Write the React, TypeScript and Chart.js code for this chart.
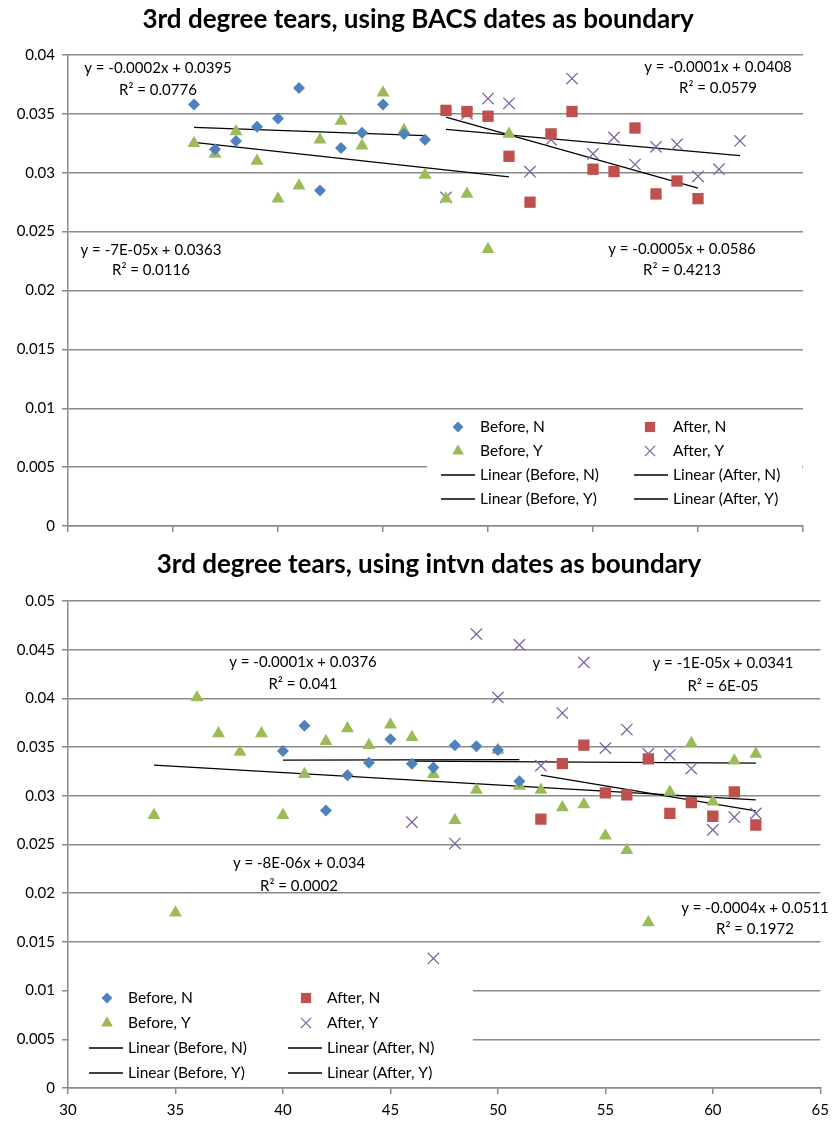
import React, { useEffect, useRef } from "react";
import { Chart, registerables } from "chart.js";
import { drawPoint } from "chart.js/helpers";

Chart.register(...registerables);

// ---------- DATA: top chart (BACS dates as boundary) ----------
const topBeforeNX = [36, 37, 38, 39, 40, 41, 42, 43, 44, 45, 46, 47];
const topBeforeNY = [0.0358, 0.032, 0.0327, 0.0339, 0.0346, 0.0372, 0.0285, 0.0321, 0.0334, 0.0358, 0.0333, 0.0328];
const topBeforeYX = [36, 37, 38, 39, 40, 41, 42, 43, 44, 45, 46, 47, 48, 49, 50, 51];
const topBeforeYY = [0.0325, 0.0316, 0.0335, 0.031, 0.0278, 0.0289, 0.0328, 0.0344, 0.0323, 0.0368, 0.0336, 0.0298, 0.0278, 0.0282, 0.0235, 0.0333];
const topAfterNX = [48, 49, 50, 51, 52, 53, 54, 55, 56, 57, 58, 59, 60];
const topAfterNY = [0.0353, 0.0352, 0.0348, 0.0314, 0.0275, 0.0333, 0.0352, 0.0303, 0.0301, 0.0338, 0.0282, 0.0293, 0.0278];
const topAfterYX = [48, 49, 50, 51, 52, 53, 54, 55, 56, 57, 58, 59, 60, 61, 62];
const topAfterYY = [0.0279, 0.035, 0.0363, 0.0359, 0.0301, 0.0328, 0.038, 0.0316, 0.033, 0.0307, 0.0322, 0.0324, 0.0297, 0.0303, 0.0327];
const topEquations = ["y = -0.0002x + 0.0395", "y = -7E-05x + 0.0363", "y = -0.0001x + 0.0408", "y = -0.0005x + 0.0586"];
const topR2 = ["R² = 0.0776", "R² = 0.0116", "R² = 0.0579", "R² = 0.4213"];

// ---------- DATA: bottom chart (intvn dates as boundary) ----------
const botBeforeNX = [40, 41, 42, 43, 44, 45, 46, 47, 48, 49, 50, 51];
const botBeforeNY = [0.0346, 0.0372, 0.0285, 0.0321, 0.0334, 0.0358, 0.0333, 0.0329, 0.0352, 0.0351, 0.0347, 0.0315];
const botBeforeYX = [34, 35, 36, 37, 38, 39, 40, 41, 42, 43, 44, 45, 46, 47, 48, 49, 50, 51, 52, 53, 54, 55, 56, 57, 58, 59, 60, 61, 62];
const botBeforeYY = [0.028, 0.018, 0.0401, 0.0364, 0.0345, 0.0364, 0.028, 0.0322, 0.0356, 0.0369, 0.0352, 0.0373, 0.036, 0.0322, 0.0275, 0.0306, 0.0347, 0.031, 0.0306, 0.0288, 0.0291, 0.0259, 0.0244, 0.017, 0.0304, 0.0354, 0.0294, 0.0336, 0.0343];
const botAfterNX = [52, 53, 54, 55, 56, 57, 58, 59, 60, 61, 62];
const botAfterNY = [0.0276, 0.0333, 0.0352, 0.0303, 0.0301, 0.0338, 0.0282, 0.0293, 0.0279, 0.0304, 0.027];
const botAfterYX = [46, 47, 48, 49, 50, 51, 52, 53, 54, 55, 56, 57, 58, 59, 60, 61, 62];
const botAfterYY = [0.0273, 0.0133, 0.0251, 0.0466, 0.0401, 0.0455, 0.0331, 0.0385, 0.0437, 0.0349, 0.0368, 0.0343, 0.0342, 0.0328, 0.0265, 0.0278, 0.0282];
const botEquations = ["y = -0.0001x + 0.0376", "y = -8E-06x + 0.034", "y = -1E-05x + 0.0341", "y = -0.0004x + 0.0511"];
const botR2 = ["R² = 0.041", "R² = 0.0002", "R² = 6E-05", "R² = 0.1972"];

const xTickValues = [30, 35, 40, 45, 50, 55, 60, 65];

// ---------- styling ----------
const FONT = 'Lato, "Liberation Sans", Arial, sans-serif';
const GRID = "#8a8a8a";
const STYLES = {
  beforeN: { pointStyle: "rectRot", radius: 6, fill: "#4F81BD", stroke: "#4F81BD", bw: 0 },
  afterN: { pointStyle: "rect", radius: 8, fill: "#C0504D", stroke: "#C0504D", bw: 0 },
  beforeY: { pointStyle: "triangle", radius: 7.5, fill: "#9BBB59", stroke: "#9BBB59", bw: 0 },
  afterY: { pointStyle: "crossRot", radius: 8, fill: "#8064A2", stroke: "#8064A2", bw: 1.3 },
};

function linFit(xs: number[], ys: number[]) {
  const n = xs.length;
  let sx = 0, sy = 0, sxx = 0, sxy = 0;
  for (let i = 0; i < n; i++) {
    sx += xs[i]; sy += ys[i]; sxx += xs[i] * xs[i]; sxy += xs[i] * ys[i];
  }
  const m = (n * sxy - sx * sy) / (n * sxx - sx * sx);
  const b = (sy - m * sx) / n;
  return { m, b };
}

function pointDs(label: string, xs: number[], ys: number[], st: any) {
  return {
    label,
    data: xs.map((x, i) => ({ x, y: ys[i] })),
    pointStyle: st.pointStyle,
    pointRadius: st.radius,
    backgroundColor: st.fill,
    borderColor: st.stroke,
    pointBorderWidth: st.bw,
    borderWidth: st.bw,
    showLine: false,
    _legend: st,
  };
}

function trendDs(label: string, xs: number[], ys: number[]) {
  const { m, b } = linFit(xs, ys);
  const x0 = Math.min(...xs);
  const x1 = Math.max(...xs);
  return {
    label,
    data: [{ x: x0, y: m * x0 + b }, { x: x1, y: m * x1 + b }],
    showLine: true,
    borderColor: "#000",
    borderWidth: 1.3,
    pointRadius: 0,
    fill: false,
    _legend: null,
  };
}

const decorPlugin = {
  id: "decor",
  afterDatasetsDraw(chart: any, _args: any, opts: any) {
    const ctx = chart.ctx;
    ctx.save();
    // title
    ctx.fillStyle = "#000";
    ctx.font = `bold ${opts.titleSize}px ${FONT}`;
    ctx.textAlign = "center";
    ctx.textBaseline = "middle";
    ctx.fillText(opts.title, opts.titleX, opts.titleY);
    // equations
    ctx.font = `15px ${FONT}`;
    for (const e of opts.equations) {
      ctx.fillText(e.eq, e.x, e.y1);
      ctx.fillText(e.r2, e.x, e.y2);
    }
    // legend
    const L = opts.legend;
    ctx.fillStyle = "#fff";
    ctx.fillRect(L.x0, L.y0, L.x1 - L.x0, L.y1 - L.y0);
    const ds = chart.data.datasets;
    ds.forEach((d: any, i: number) => {
      const row = Math.floor(i / 2);
      const col = i % 2;
      const tx = L.textX[col];
      const cy = L.rows[row];
      if (d._legend) {
        const st = d._legend;
        ctx.fillStyle = st.fill;
        ctx.strokeStyle = st.stroke;
        ctx.lineWidth = st.bw;
        drawPoint(ctx, { pointStyle: st.pointStyle, radius: st.radius * 0.9, rotation: 0, borderWidth: st.bw }, L.markerX[col], cy);
      } else {
        ctx.strokeStyle = "#000";
        ctx.lineWidth = 1.3;
        ctx.beginPath();
        ctx.moveTo(tx - 39, cy);
        ctx.lineTo(tx - 5, cy);
        ctx.stroke();
      }
      ctx.fillStyle = "#000";
      ctx.font = `15.5px ${FONT}`;
      ctx.textAlign = "left";
      ctx.textBaseline = "middle";
      ctx.fillText(d.label, tx, cy);
    });
    ctx.restore();
  },
};

function buildConfig(spec: any) {
  return {
    type: "scatter",
    data: { datasets: spec.datasets },
    plugins: [decorPlugin],
    options: {
      responsive: false,
      animation: false,
      events: [],
      devicePixelRatio: 1,
      layout: { padding: { left: 0, right: spec.padRight, top: spec.padTop, bottom: 0 } },
      plugins: {
        legend: { display: false },
        tooltip: { enabled: false },
        title: { display: false },
        decor: spec.decor,
      },
      scales: {
        x: {
          type: "linear",
          min: xTickValues[0],
          max: xTickValues[xTickValues.length - 1],
          afterBuildTicks: (s: any) => { s.ticks = xTickValues.map((v) => ({ value: v })); },
          ticks: { display: spec.showXLabels, color: "#000", font: { family: FONT, size: 15 }, padding: 7, maxRotation: 0 },
          grid: { drawOnChartArea: false, drawTicks: true, tickLength: 6, color: GRID, lineWidth: 1.5 },
          border: { color: GRID, width: 1.5 },
          afterFit: (s: any) => { s.height = spec.xHeight; },
        },
        y: {
          type: "linear",
          min: 0,
          max: spec.yMax,
          ticks: {
            stepSize: 0.005,
            color: "#000",
            font: { family: FONT, size: 15 },
            padding: 7,
            callback: (v: any) => String(+Number(v).toFixed(3)),
          },
          grid: { color: GRID, lineWidth: 1.5, tickLength: 6 },
          border: { color: GRID, width: 1.5 },
          afterFit: (s: any) => { s.width = 68; },
        },
      },
    },
  };
}

const topSpec = {
  width: 836, height: 546, top: 0,
  padTop: 55, padRight: 33, xHeight: 20, yMax: 0.04, showXLabels: false,
  datasets: [
    pointDs("Before, N", topBeforeNX, topBeforeNY, STYLES.beforeN),
    pointDs("After, N", topAfterNX, topAfterNY, STYLES.afterN),
    pointDs("Before, Y", topBeforeYX, topBeforeYY, STYLES.beforeY),
    pointDs("After, Y", topAfterYX, topAfterYY, STYLES.afterY),
    trendDs("Linear (Before, N)", topBeforeNX, topBeforeNY),
    trendDs("Linear (After, N)", topAfterNX, topAfterNY),
    trendDs("Linear (Before, Y)", topBeforeYX, topBeforeYY),
    trendDs("Linear (After, Y)", topAfterYX, topAfterYY),
  ],
  decor: {
    title: "3rd degree tears, using BACS dates as boundary",
    titleSize: 26, titleX: 418, titleY: 20,
    equations: [
      { eq: topEquations[0], r2: topR2[0], x: 158, y1: 68, y2: 90 },
      { eq: topEquations[1], r2: topR2[1], x: 151, y1: 250, y2: 270 },
      { eq: topEquations[2], r2: topR2[2], x: 718, y1: 67, y2: 88 },
      { eq: topEquations[3], r2: topR2[3], x: 682, y1: 249, y2: 270 },
    ],
    legend: { x0: 427, y0: 413, x1: 802, y1: 514, markerX: [458, 650], textX: [480, 673], rows: [427, 451, 475, 499] },
  },
};

const botSpec = {
  width: 836, height: 576, top: 545,
  padTop: 56, padRight: 13, xHeight: 33, yMax: 0.05, showXLabels: true,
  datasets: [
    pointDs("Before, N", botBeforeNX, botBeforeNY, STYLES.beforeN),
    pointDs("After, N", botAfterNX, botAfterNY, STYLES.afterN),
    pointDs("Before, Y", botBeforeYX, botBeforeYY, STYLES.beforeY),
    pointDs("After, Y", botAfterYX, botAfterYY, STYLES.afterY),
    trendDs("Linear (Before, N)", botBeforeNX, botBeforeNY),
    trendDs("Linear (After, N)", botAfterNX, botAfterNY),
    trendDs("Linear (Before, Y)", botBeforeYX, botBeforeYY),
    trendDs("Linear (After, Y)", botAfterYX, botAfterYY),
  ],
  decor: {
    title: "3rd degree tears, using intvn dates as boundary",
    titleSize: 26, titleX: 429, titleY: 20,
    equations: [
      { eq: botEquations[0], r2: botR2[0], x: 303, y1: 117, y2: 139 },
      { eq: botEquations[1], r2: botR2[1], x: 299, y1: 318, y2: 341 },
      { eq: botEquations[2], r2: botR2[2], x: 723, y1: 118, y2: 141 },
      { eq: botEquations[3], r2: botR2[3], x: 755, y1: 363, y2: 384 },
    ],
    legend: { x0: 69, y0: 440, x1: 473, y1: 541, markerX: [107, 306], textX: [128, 327], rows: [453, 478, 503, 528] },
  },
};

function Panel({ spec }: { spec: any }) {
  const ref = useRef<HTMLCanvasElement | null>(null);
  useEffect(() => {
    if (!ref.current) return;
    const chart = new Chart(ref.current, buildConfig(spec) as any);
    return () => chart.destroy();
  }, [spec]);
  return (
    <canvas
      ref={ref}
      width={spec.width}
      height={spec.height}
      style={{ position: "absolute", left: 0, top: spec.top, display: "block", width: spec.width, height: spec.height }}
    />
  );
}

export default function App() {
  return (
    <div style={{ position: "absolute", left: 0, top: 0, width: 836, height: 1121, background: "#fff", overflow: "hidden" }}>
      <Panel spec={topSpec} />
      <Panel spec={botSpec} />
    </div>
  );
}
